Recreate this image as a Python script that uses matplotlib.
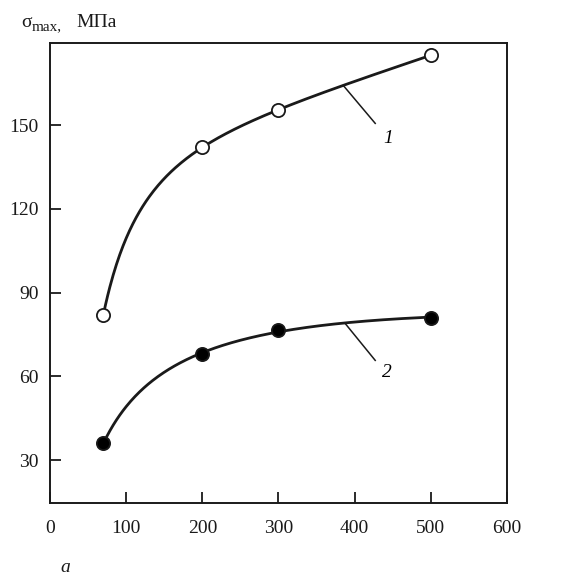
import numpy as np
import matplotlib
matplotlib.use("Agg")
import matplotlib.pyplot as plt

plt.rcParams['font.family'] = ['Liberation Serif', 'DejaVu Serif']

x_vals = [70, 200, 300, 500]
series1 = [82, 142, 155.5, 175]
series2 = [36, 68, 76.5, 81]
x_ticks = [0, 100, 200, 300, 400, 500, 600]
y_ticks = [30, 60, 90, 120, 150]

fig = plt.figure(figsize=(5.63, 5.77), dpi=100)
ax = fig.add_axes([0.0888, 0.1282, 0.8117, 0.7973])

xs = np.linspace(min(x_vals), max(x_vals), 300)
fits = []
for ys, face, deg in [(series1, 'white', 3), (series2, 'black', 2)]:
    c = np.polyfit(np.log(x_vals), ys, deg)
    fits.append(c)
    ax.plot(xs, np.polyval(c, np.log(xs)), color='#1a1a1a', lw=2.0, zorder=2)
    ax.plot(x_vals, ys, 'o', ms=9.5, mfc=face, mec='#1a1a1a', mew=1.3, zorder=3)

# curve labels with leader lines
y1 = np.polyval(fits[0], np.log(385))
ax.plot([385, 427], [y1, 150.6], color='#1a1a1a', lw=1.1)
ax.text(444, 145.3, '1', fontsize=14, style='italic', ha='center', va='center')
y2 = np.polyval(fits[1], np.log(387))
ax.plot([387, 427], [y2, 65.7], color='#1a1a1a', lw=1.1)
ax.text(442, 61.4, '2', fontsize=14, style='italic', ha='center', va='center')

ax.set_xlim(0, 600)
ax.set_ylim(14.6, 179.4)
ax.set_xticks(x_ticks)
ax.set_yticks(y_ticks)
ax.tick_params(direction='in', length=8, width=1.3, labelsize=14, colors='#1a1a1a')
ax.tick_params(axis='x', pad=12)
ax.tick_params(axis='y', pad=8)
for s in ax.spines.values():
    s.set_linewidth(1.4)
    s.set_color('#1a1a1a')

# y-axis title: σ_max, МПа
fig.text(21/563, 1 - 27/577, 'σ', fontsize=14, ha='left', va='baseline', color='#1a1a1a')
fig.text(32/563, 1 - 30/577, 'max,', fontsize=11, ha='left', va='baseline', color='#1a1a1a')
fig.text(76/563, 1 - 27/577, 'МПа', fontsize=14, ha='left', va='baseline', color='#1a1a1a')
fig.text(65/563, 1 - 567/577, 'а', fontsize=14, style='italic', ha='center', va='center', color='#1a1a1a')

fig.savefig('out.png', dpi=100)
